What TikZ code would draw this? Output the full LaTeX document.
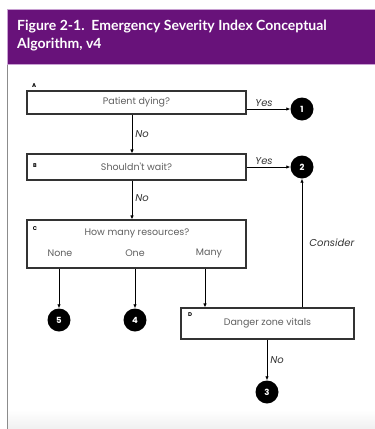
\documentclass[tikz,border=0pt]{standalone}
\usepackage{fontspec}
\setmainfont{Lato}
\newfontfamily\boxfont{Poppins}
\usetikzlibrary{arrows.meta,positioning,calc}
\definecolor{esipurple}{RGB}{104,18,122}
\definecolor{esiedge}{RGB}{200,160,210}
\definecolor{esitext}{RGB}{95,95,95}
\begin{document}
\begin{tikzpicture}[x=1pt, y=-1pt, >={Latex[length=4pt,width=3.5pt]},
  every node/.style={font=\boxfont\fontsize{9.5}{11}\selectfont},
  box/.style={draw=black!80, line width=1.1pt, inner sep=0pt, text=esitext},
  lvl/.style={circle, fill=black, text=white, minimum size=23pt, inner sep=0pt, font=\boxfont\fontsize{8.5}{9}\selectfont\bfseries},
  tag/.style={font=\boxfont\fontsize{5.5}{6}\selectfont\bfseries, inner sep=0pt},
  ans/.style={font=\boxfont\fontsize{10}{11}\selectfont\itshape, text=black!80, inner sep=1pt},
  arr/.style={->, line width=0.9pt}]
  \useasboundingbox (0,0) rectangle (375,429);
  % frame and header
  \shade[top color=white, bottom color=black!6] (7,410) rectangle (375,429);
  \draw[black!45, line width=1pt] (7,64) -- (7,429);
  \fill[esipurple] (7,9) rectangle (375,64);
  \draw[esiedge, line width=0.8pt] (7,64) -- (7,9) -- (375,9);
  \draw[esiedge, line width=0.8pt] (7,64) -- (375,64);
  \node[anchor=north west, text=white, align=left, inner sep=0pt,
    font=\fontsize{14}{18}\selectfont\bfseries] (title) at (17,20)
    {Figure 2-1.\ \ Emergency Severity Index Conceptual\\Algorithm, v4};
  % decision boxes
  \node[box, minimum width=219pt, minimum height=23pt] (A) at (136.5,102.5) {Patient dying?};
  \node[box, minimum width=219pt, minimum height=26pt] (B) at (136.5,167) {Shouldn't wait?};
  \node[box, minimum width=219pt, minimum height=48pt] (C) at (136.5,244) {};
  \node[box, minimum width=173pt, minimum height=31pt] (D) at (267.5,323.5) {Danger zone vitals};
  \node[tag, anchor=south west] (tA) at (32,88) {A};
  \node[tag] (tB) at (35,166) {B};
  \node[tag] (tC) at (35,229) {C};
  \node[tag] (tD) at (190,315) {D};
  \node[text=esitext] (q) at (137,233) {How many resources?};
  \node[text=esitext] (none) at (60,253) {None};
  \node[text=esitext] (one) at (135,253) {One};
  \node[text=esitext] (many) at (209,253) {Many};
  % triage levels
  \node[lvl] (l1) at (302,109) {1};
  \node[lvl] (l2) at (302,167) {2};
  \node[lvl] (l3) at (267,392) {3};
  \node[lvl] (l4) at (135,320) {4};
  \node[lvl] (l5) at (59,320) {5};
  % connectors
  \draw[arr] ([xshift=-4.5pt]A.south) -- node[ans, right=2pt] {No} ([xshift=-4.5pt]B.north);
  \draw[arr] ([xshift=-4.5pt]B.south) -- node[ans, right=2pt, pos=0.45] {No} ([xshift=-4.5pt]C.north);
  \draw[arr] (A.east |- l1) -- node[ans, above=1pt, pos=0.4] {Yes} (l1);
  \draw[arr] (B.east |- l2) -- node[ans, above=1pt, pos=0.4] {Yes} (l2);
  \draw[arr] (C.south -| l5) -- (l5);
  \draw[arr] (C.south -| l4) -- (l4);
  \draw[arr] ([xshift=-4pt]C.south -| many) -- ([xshift=-4pt]D.north -| many);
  \draw[arr] (D.north -| l2) -- node[ans, right=6pt, pos=0.5] {Consider} (l2);
  \draw[arr] (D.south -| l3) -- node[ans, right=2pt] {No} (l3);
\end{tikzpicture}
\end{document}
